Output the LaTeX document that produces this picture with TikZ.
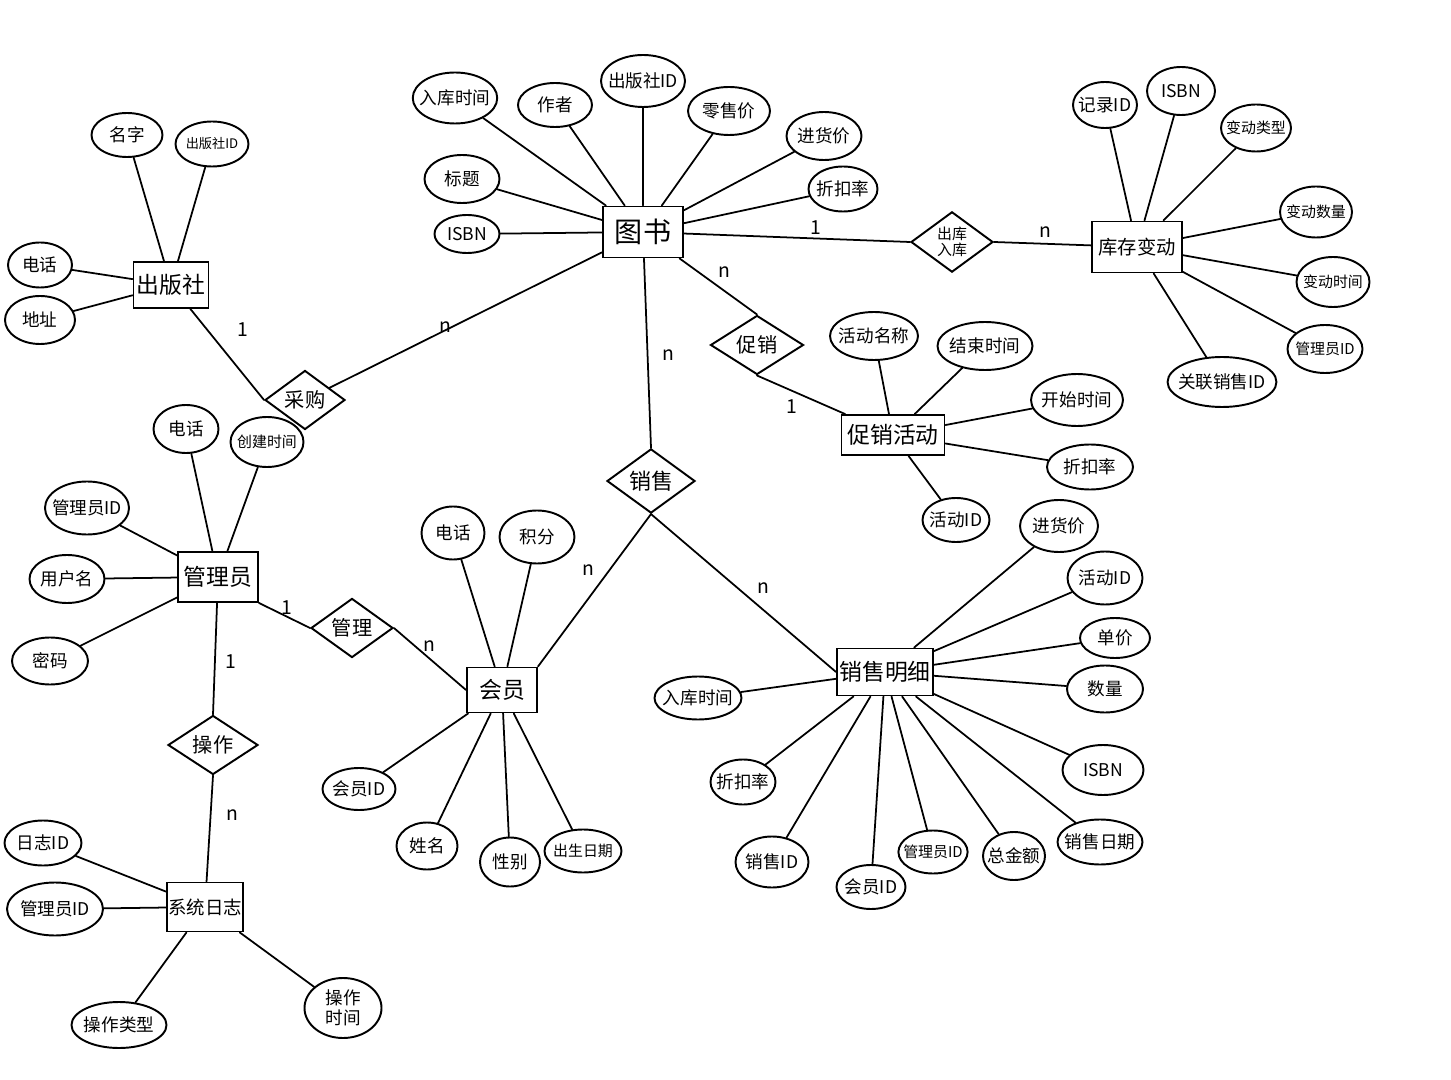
\documentclass[tikz,border=0pt]{standalone}
\usepackage{fontspec}
\setmainfont{Noto Sans CJK SC}
\usepackage{tikz}
\usetikzlibrary{shapes.geometric}
\newcommand{\sqz}{\fontsize{8.5}{10}\selectfont}

\begin{document}
\begin{tikzpicture}[x=0.2mm, y=-0.2mm, line cap=round,
    entity/.style 2 args={draw, line width=1.1pt, minimum width=#1mm, minimum height=#2mm, inner sep=0pt, font=\fontsize{13}{15}\selectfont},
    attr/.style 2 args={draw, ellipse, line width=1.1pt, minimum width=#1mm, minimum height=#2mm, inner xsep=-3pt, inner ysep=0pt, align=center, font=\fontsize{10}{11.5}\selectfont},
    rel/.style 2 args={draw, diamond, line width=1.1pt, minimum width=#1mm, minimum height=#2mm, inner sep=0pt, align=center, font=\fontsize{11.5}{13}\selectfont},
    card/.style={inner sep=1pt, font=\fontsize{11}{13}\selectfont},
    link/.style={line width=1pt}]
  \useasboundingbox (0,0) rectangle (1451,1080);

  % Entities
  \node[entity={15}{9.2}] (publisher) at (171,285) {出版社};
  \node[entity={16}{10.2}, font=\fontsize{16}{18}\selectfont] (book) at (643,232) {图书};
  \node[entity={18}{10.2}, font=\fontsize{11}{13}\selectfont] (stock) at (1137,247) {库存变动};
  \node[entity={20.6}{8}] (promo) at (893,435) {促销活动};
  \node[entity={16}{10}] (admin) at (218,577) {管理员};
  \node[entity={14}{9}] (member) at (502,690) {会员};
  \node[entity={19.2}{9.4}] (sale) at (885,672) {销售明细};
  \node[entity={15.2}{9.8}, font=\fontsize{10.5}{12}\selectfont] (log) at (205,907) {系统日志};

  % Relationships
  \node[rel={16}{10}] (buy) at (305,400) {采购};
  \node[rel={16.4}{11.4}, font=\fontsize{8.5}{9.5}\selectfont] (inout) at (952,242) {出库\\入库};
  \node[rel={18.6}{10.8}] (promote) at (757,345) {促销};
  \node[rel={17.6}{12.8}, font=\fontsize{12.5}{14}\selectfont] (sell) at (651,481) {销售};
  \node[rel={16.4}{11}] (manage) at (352,628) {管理};
  \node[rel={18}{10}] (operate) at (213,745) {操作};

  % Publisher attributes
  \foreach \nm/\x/\y/\aw/\ah/\lbl in {
      pname/127/135/14.2/8.8/名字,
      ppid/212/144/14.6/9/{\fontsize{7.5}{9}\selectfont 出版社ID},
      ptel/40/265/12.8/9/电话,
      paddr/40/320/14/9.6/地址}
  { \node[attr={\aw}{\ah}] (\nm) at (\x,\y) {\lbl};
    \draw[link] (\nm) -- (publisher); }

  % Book attributes
  \foreach \nm/\x/\y/\aw/\ah/\lbl in {
      bintime/455/98/16/10.2/入库时间,
      bauthor/555/105/14.8/8.8/作者,
      bpubid/643/81/15/10.4/出版社ID,
      bretail/729/111/16.4/9.6/零售价,
      bcost/824/136/15/9.6/进货价,
      bdisc/843/189/13.8/9/折扣率,
      btitle/462/179/15/9.6/标题,
      bisbn/467/234/13/7.6/ISBN}
  { \node[attr={\aw}{\ah}] (\nm) at (\x,\y) {\lbl};
    \draw[link] (\nm) -- (book); }

  % Stock change attributes
  \foreach \nm/\x/\y/\aw/\ah/\lbl in {
      srec/1105/105/12.8/9.2/记录ID,
      sisbn/1181/91/13.6/9.6/ISBN,
      stype/1256/128/14/9.4/\sqz 变动类型,
      sqty/1316/212/14.4/10.2/\sqz 变动数量,
      stime/1333/282/14.6/10/\sqz 变动时间,
      sadmin/1325/349/15/9.6/\sqz 管理员ID,
      ssale/1222/382/21/10/关联销售ID}
  { \node[attr={\aw}{\ah}] (\nm) at (\x,\y) {\lbl};
    \draw[link] (\nm) -- (stock); }

  % Promotion attributes
  \foreach \nm/\x/\y/\aw/\ah/\lbl in {
      pmname/874/336/17.6/9.6/活动名称,
      pmend/985/346/19/9.6/结束时间,
      pmstart/1077/400/18.4/10.4/开始时间,
      pmdisc/1090/467/17.2/9/折扣率,
      pmid/956/520/13.4/8.8/活动ID}
  { \node[attr={\aw}{\ah}] (\nm) at (\x,\y) {\lbl};
    \draw[link] (\nm) -- (promo); }

  % Admin attributes
  \foreach \nm/\x/\y/\aw/\ah/\lbl in {
      atel/186/429/13/9.6/电话,
      acreate/267/442/14.6/10/\sqz 创建时间,
      aid/87/508/16/10.6/管理员ID,
      auser/67/579/15/9.6/用户名,
      apwd/50/661/15.2/9.4/密码}
  { \node[attr={\aw}{\ah}] (\nm) at (\x,\y) {\lbl};
    \draw[link] (\nm) -- (admin); }

  % Member attributes
  \foreach \nm/\x/\y/\aw/\ah/\lbl in {
      mtel/453/533/12.6/10.6/电话,
      mpoint/537/537/15/10.6/积分,
      mid/359/789/14.6/8.4/会员ID,
      mname/427/846/12.2/9.4/姓名,
      msex/510/862/12/9.8/性别,
      mbirth/583/851/15.4/8.6/\sqz 出生日期}
  { \node[attr={\aw}{\ah}] (\nm) at (\x,\y) {\lbl};
    \draw[link] (\nm) -- (member); }

  % Sale detail attributes
  \foreach \nm/\x/\y/\aw/\ah/\lbl in {
      dcost/1059/526/15.6/10.4/进货价,
      dact/1105/578/15/10.6/活动ID,
      dprice/1115/638/14/8/单价,
      dqty/1105/689/15.2/9.4/数量,
      disbn/1103/770/16.2/10/ISBN,
      ddate/1100/842/17/9/销售日期,
      dtotal/1014/856/12.4/9.6/总金额,
      dadmin/933/852/13.8/8.6/\sqz 管理员ID,
      dmember/871/887/13.8/8.8/会员ID,
      did/772/862/14.6/10.2/销售ID,
      ddisc/743/782/13/9/折扣率,
      dintime/698/698/17.4/8.6/入库时间}
  { \node[attr={\aw}{\ah}] (\nm) at (\x,\y) {\lbl};
    \draw[link] (\nm) -- (sale); }

  % Log attributes
  \foreach \nm/\x/\y/\aw/\ah/\lbl in {
      lid/43/843/15.4/9/日志ID,
      ladmin/55/909/19.2/10.6/管理员ID,
      ltype/119/1025/19/9.2/操作类型,
      ltime/343/1008/15.4/12/{操作\\时间}}
  { \node[attr={\aw}{\ah}] (\nm) at (\x,\y) {\lbl};
    \draw[link] (\nm) -- (log); }

  % Relationship links
  \draw[link] (publisher) -- (buy.west);
  \draw[link] (buy) -- (book);
  \draw[link] (book) -- (inout.west);
  \draw[link] (inout.east) -- (stock);
  \draw[link] (book) -- (promote.north);
  \draw[link] (promote.south) -- (promo);
  \draw[link] (book) -- (sell.north);
  \draw[link] (sell.south) -- (member.north east);
  \draw[link] (sell.south) -- (sale.west);
  \draw[link] (admin.south east) -- (manage.west);
  \draw[link] (manage.east) -- (member.west);
  \draw[link] (admin) -- (operate.north);
  \draw[link] (operate.south) -- (log);

  % Cardinalities
  \node[card] (cpub) at (243,330) {1};
  \node[card] (cbuy) at (445,327) {n};
  \node[card] (csellbook) at (668,355) {n};
  \node[card] (cinbook) at (816,228) {1};
  \node[card] (cinstock) at (1045,232) {n};
  \node[card] (cpromobook) at (724,272) {n};
  \node[card] (cpromo) at (792,407) {1};
  \node[card] (csellmem) at (588,570) {n};
  \node[card] (cselldet) at (763,588) {n};
  \node[card] (cmanadm) at (287,608) {1};
  \node[card] (cmanmem) at (429,646) {n};
  \node[card] (copadm) at (231,662) {1};
  \node[card] (coplog) at (232,815) {n};
\end{tikzpicture}
\end{document}
